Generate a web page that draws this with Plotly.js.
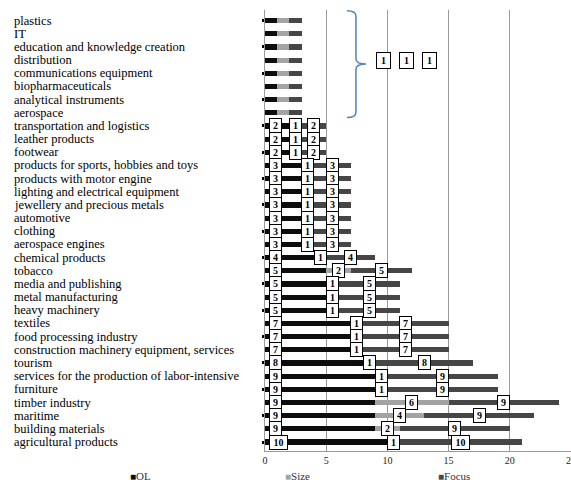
<!DOCTYPE html>
<html>
<head>
<meta charset="utf-8">
<script src="https://cdn.plot.ly/plotly-3.0.1.min.js"></script>
<style>html,body{margin:0;padding:0;background:#fff;}#chart{width:571px;height:482px;}</style>
</head>
<body>
<div id="chart"></div>
<script>
const categories = [
  "plastics", "IT", "education and knowledge creation", "distribution",
  "communications equipment", "biopharmaceuticals", "analytical instruments", "aerospace",
  "transportation and logistics", "leather products", "footwear",
  "products for sports, hobbies and toys", "products with motor engine",
  "lighting and electrical equipment", "jewellery and precious metals", "automotive",
  "clothing", "aerospace engines", "chemical products", "tobacco", "media and publishing",
  "metal manufacturing", "heavy machinery", "textiles", "food processing industry",
  "construction machinery equipment, services", "tourism",
  "services for the production of labor-intensive", "furniture", "timber industry",
  "maritime", "building materials", "agricultural products"
];
const olValues    = [1,1,1,1,1,1,1,1, 2,2,2, 3,3,3,3,3,3,3, 4, 5,5,5,5, 7,7,7, 8, 9,9,9,9,9, 10];
const sizeValues  = [1,1,1,1,1,1,1,1, 1,1,1, 1,1,1,1,1,1,1, 1, 2,1,1,1, 1,1,1, 1, 1,1,6,4,2, 1];
const focusValues = [1,1,1,1,1,1,1,1, 2,2,2, 3,3,3,3,3,3,3, 4, 5,5,5,5, 7,7,7, 8, 9,9,9,9,9, 10];
const seriesNames = ["OL", "Size", "Focus"];
const groupedCount = 8;            // first rows summarised by the brace
const groupedLabels = ["1", "1", "1"];
const xTicks = [0, 5, 10, 15, 20, 25];

const colors = ["#0d0d0d", "#a3a3a3", "#464646"];
const serif = "Liberation Serif, Times New Roman, serif";

const traces = [olValues, sizeValues, focusValues].map((vals, i) => ({
  type: "bar",
  orientation: "h",
  name: seriesNames[i],
  x: vals,
  y: categories,
  marker: {color: colors[i]},
  showlegend: false,
  hoverinfo: "x+y+name"
}));

const annotations = [];
// category labels (left aligned)
categories.forEach(c => {
  annotations.push({
    xref: "paper", yref: "y", x: -0.827, y: c, xanchor: "left", yanchor: "middle",
    text: c, showarrow: false, font: {family: serif, size: 12.5, color: "#000"}
  });
});
function box(x, y, txt, anchor, shift) {
  return {
    xref: "x", yref: "y", x: x, y: y, xanchor: anchor, yanchor: "middle", xshift: shift || 0,
    text: "<b>" + txt + "</b>", showarrow: false,
    font: {family: serif, size: 10, color: "#000"},
    bgcolor: "#fff", bordercolor: "#000", borderwidth: 1, borderpad: 1,
    width: String(txt).length > 1 ? 15 : 9
  };
}
categories.forEach((c, i) => {
  if (i < groupedCount) return;
  const ol = olValues[i], s = sizeValues[i], f = focusValues[i];
  annotations.push(box(0, c, ol, "left", 4));
  annotations.push(box(ol + s / 2, c, s, "center"));
  annotations.push(box(ol + s + f / 2, c, f, "center"));
});
// grouped labels to the right of the brace
const groupX = [9.65, 11.6, 13.4];
groupedLabels.forEach((t, k) => {
  const a = box(groupX[k], 3.0, t, "center");
  a.width = 9; a.borderpad = 2;
  annotations.push(a);
});
// legend drawn as text entries under the chart
const legendX = [-0.447, 0.059, 0.56];
seriesNames.forEach((n, i) => {
  annotations.push({
    xref: "paper", yref: "paper", x: legendX[i], y: -0.056, xanchor: "left", yanchor: "middle",
    text: "<span style='color:" + colors[i] + ";font-size:10px'>■</span>" + n,
    showarrow: false, font: {family: serif, size: 11, color: "#333"}
  });
});

const layout = {
  width: 571, height: 482,
  margin: {l: 265, r: 0, t: 10, b: 31},
  paper_bgcolor: "#fff", plot_bgcolor: "#fff",
  barmode: "stack", bargap: 0.6,
  font: {family: serif, color: "#000"},
  showlegend: false,
  xaxis: {
    range: [0, 25], tickvals: xTicks, ticktext: xTicks.map(String),
    showgrid: true, gridcolor: "#9a9a9a", gridwidth: 1,
    zeroline: false, showline: true, linecolor: "#9a9a9a", linewidth: 1,
    ticks: "", ticklabeloverflow: "allow",
    tickfont: {family: serif, size: 10, color: "#222"}, fixedrange: true
  },
  yaxis: {
    type: "category", categoryorder: "array", categoryarray: categories,
    autorange: "reversed", showticklabels: false,
    showline: true, linecolor: "#9a9a9a", linewidth: 1,
    ticks: "outside", ticklen: 2, tickwidth: 3, tickcolor: "#000",
    showgrid: false, zeroline: false, fixedrange: true
  },
  shapes: [{
    type: "path", xref: "x", yref: "y",
    path: "M 6.7,-0.75 Q 7.43,-0.75 7.43,-0.35 L 7.43,2.9 Q 7.43,3.3 8.25,3.3 Q 7.43,3.3 7.43,3.7 L 7.43,6.95 Q 7.43,7.35 6.7,7.35",
    line: {color: "#4f81bd", width: 1.5}
  }],
  annotations: annotations
};

Plotly.newPlot("chart", traces, layout, {displayModeBar: false, staticPlot: true});
</script>
</body>
</html>
